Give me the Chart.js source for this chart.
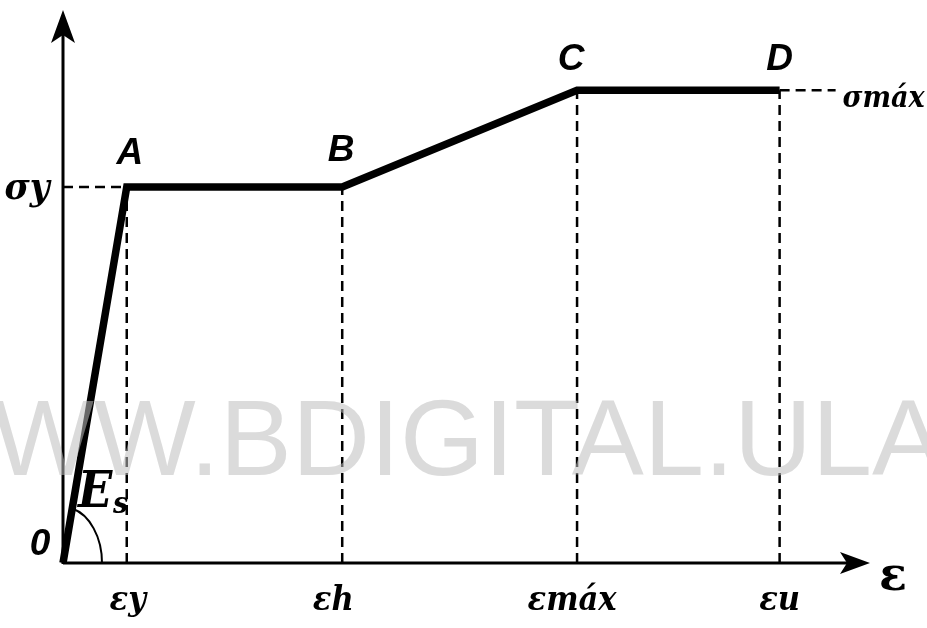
<!DOCTYPE html>
<html>
<head>
<meta charset="utf-8">
<script src="https://cdn.jsdelivr.net/npm/chart.js@4.4.1/dist/chart.umd.min.js"></script>
<style>
  html, body { margin: 0; padding: 0; background: #ffffff; }
  #wrap { width: 927px; height: 628px; position: relative; }
</style>
</head>
<body>
<div id="wrap"><canvas id="c" width="927" height="628"></canvas></div>
<script>
// Idealised stress–strain curve for structural steel: 0 → A (yield) → B (hardening start) → C (max) → D (ultimate)
const pointNames   = ['0', 'A', 'B', 'C', 'D'];
const strainValues = [0, 7.9, 34.6, 63.7, 88.8];
const stressValues = [0, 68.0, 68.0, 85.5, 85.5];

// axis markers
const strainNames  = ['εy', 'εh', 'εmáx', 'εu'];   // below points A, B, C, D
const stressNames  = ['σy', 'σmáx'];
const stressLevels = [68.0, 85.5];

const curve = strainValues.map((x, i) => ({ x, y: stressValues[i] }));

// dashed guide lines: verticals from A..D to the strain axis, horizontal σy from the stress axis to A
const guides = [];
for (let i = 1; i < curve.length; i++) {
  guides.push([{ x: strainValues[i], y: 0 }, { x: strainValues[i], y: stressValues[i] }]);
}
guides.push([{ x: 0, y: stressLevels[0] }, { x: strainValues[1], y: stressLevels[0] }]);

const DASH = [10, 6];

const datasets = [{
  data: curve,
  borderColor: '#000',
  borderWidth: 7.5,
  pointRadius: 0,
  tension: 0,
  clip: false,
  order: 0,
  borderJoinStyle: 'miter',
  borderCapStyle: 'butt'
}].concat(guides.map(g => ({
  data: g,
  borderColor: '#000',
  borderWidth: 2.5,
  borderDash: DASH,
  pointRadius: 0,
  clip: false,
  order: 1
})));

function arrowHead(ctx, tipX, tipY, dir) {
  // dir: 'up' or 'right'; notched filled arrowhead
  ctx.beginPath();
  if (dir === 'up') {
    ctx.moveTo(tipX, tipY);
    ctx.lineTo(tipX + 12, tipY + 33);
    ctx.lineTo(tipX, tipY + 25);
    ctx.lineTo(tipX - 12, tipY + 33);
  } else {
    ctx.moveTo(tipX, tipY);
    ctx.lineTo(tipX - 30, tipY + 11);
    ctx.lineTo(tipX - 23, tipY);
    ctx.lineTo(tipX - 30, tipY - 11);
  }
  ctx.closePath();
  ctx.fill();
}

const greek = s => `italic bold ${s}px "DejaVu Serif Condensed", "DejaVu Serif", "Liberation Serif", serif`;

const decor = {
  id: 'decor',
  beforeDatasetsDraw(chart) {
    const { ctx, chartArea, scales: { x, y } } = chart;
    const x0 = x.getPixelForValue(0), y0 = y.getPixelForValue(0);
    ctx.save();
    ctx.strokeStyle = '#000';
    ctx.fillStyle = '#000';
    ctx.lineWidth = 3;
    // stress axis
    ctx.beginPath();
    ctx.moveTo(x0, y0 + 1);
    ctx.lineTo(x0, chartArea.top + 20);
    ctx.stroke();
    arrowHead(ctx, x0, chartArea.top, 'up');
    // strain axis
    ctx.beginPath();
    ctx.moveTo(x0, y0);
    ctx.lineTo(chartArea.right - 20, y0);
    ctx.stroke();
    arrowHead(ctx, chartArea.right, y0, 'right');

    // σmáx guide continuing right of D
    const yD = y.getPixelForValue(stressLevels[1]);
    const xD = x.getPixelForValue(strainValues[4]);
    ctx.lineWidth = 2.5;
    ctx.setLineDash(DASH);
    ctx.beginPath();
    ctx.moveTo(xD, yD);
    ctx.lineTo(xD + 56, yD);
    ctx.stroke();
    ctx.setLineDash([]);

    // modulus arc at the origin, meeting the elastic branch
    const xA = x.getPixelForValue(strainValues[1]), yA = y.getPixelForValue(stressValues[1]);
    const rx = 39, ry = 56;
    const yt = y0 - 54;
    const xt = x0 + (xA - x0) * (y0 - yt) / (y0 - yA);
    const t = -Math.acos(Math.min(1, (xt - x0) / rx));
    ctx.lineWidth = 2;
    ctx.beginPath();
    ctx.ellipse(x0, y0, rx, ry, 0, t, 0);
    ctx.stroke();
    ctx.restore();
  },
  afterDraw(chart) {
    const { ctx, chartArea, scales: { x, y } } = chart;
    const x0 = x.getPixelForValue(0), y0 = y.getPixelForValue(0);
    ctx.save();
    ctx.fillStyle = '#000';
    ctx.textAlign = 'center';
    ctx.textBaseline = 'middle';

    // point names
    ctx.font = 'italic bold 37px "Liberation Sans", Arial, sans-serif';
    const nameOffsets = [[-23, -18], [3, -33], [-1, -36], [-6, -30], [0, -30]];
    pointNames.forEach((n, i) => {
      const px = x.getPixelForValue(strainValues[i]);
      const py = y.getPixelForValue(stressValues[i]);
      ctx.fillText(n, px + nameOffsets[i][0], py + nameOffsets[i][1]);
    });

    // strain markers under the axis
    ctx.font = greek(34);
    const strainShift = [1, -9, -5, 0];
    strainNames.forEach((n, i) => {
      const px = x.getPixelForValue(strainValues[i + 1]);
      ctx.fillText(n, px + strainShift[i], y0 + 38);
    });
    // strain axis title
    ctx.font = 'bold 46px "DejaVu Serif", "Liberation Serif", serif';
    ctx.fillText('ε', chartArea.right + 23, y0 + 15);

    // stress markers
    ctx.font = greek(38);
    ctx.fillText(stressNames[0], x0 - 36, y.getPixelForValue(stressLevels[0]) + 2);
    ctx.font = greek(30);
    ctx.fillText(stressNames[1], x.getPixelForValue(strainValues[4]) + 104, y.getPixelForValue(stressLevels[1]) + 9);

    // modulus label
    ctx.textAlign = 'left';
    ctx.textBaseline = 'alphabetic';
    ctx.font = greek(50);
    ctx.fillText('E', x0 + 15, y0 - 56);
    ctx.font = greek(30);
    ctx.fillText('s', x0 + 50, y0 - 50);

    // repository watermark
    ctx.font = '108px "Liberation Sans", Arial, sans-serif';
    ctx.fillStyle = 'rgba(190,190,190,0.55)';
    ctx.fillText('WWW.BDIGITAL.ULA.VE', -110, 475);
    ctx.restore();
  }
};

new Chart(document.getElementById('c'), {
  type: 'line',
  data: { datasets },
  options: {
    responsive: false,
    animation: false,
    events: [],
    layout: { padding: { left: 63, right: 57, top: 10, bottom: 65 } },
    scales: {
      x: { type: 'linear', min: 0, max: 100, display: false },
      y: { type: 'linear', min: 0, max: 100, display: false }
    },
    plugins: { legend: { display: false }, tooltip: { enabled: false } }
  },
  plugins: [decor]
});
</script>
</body>
</html>
